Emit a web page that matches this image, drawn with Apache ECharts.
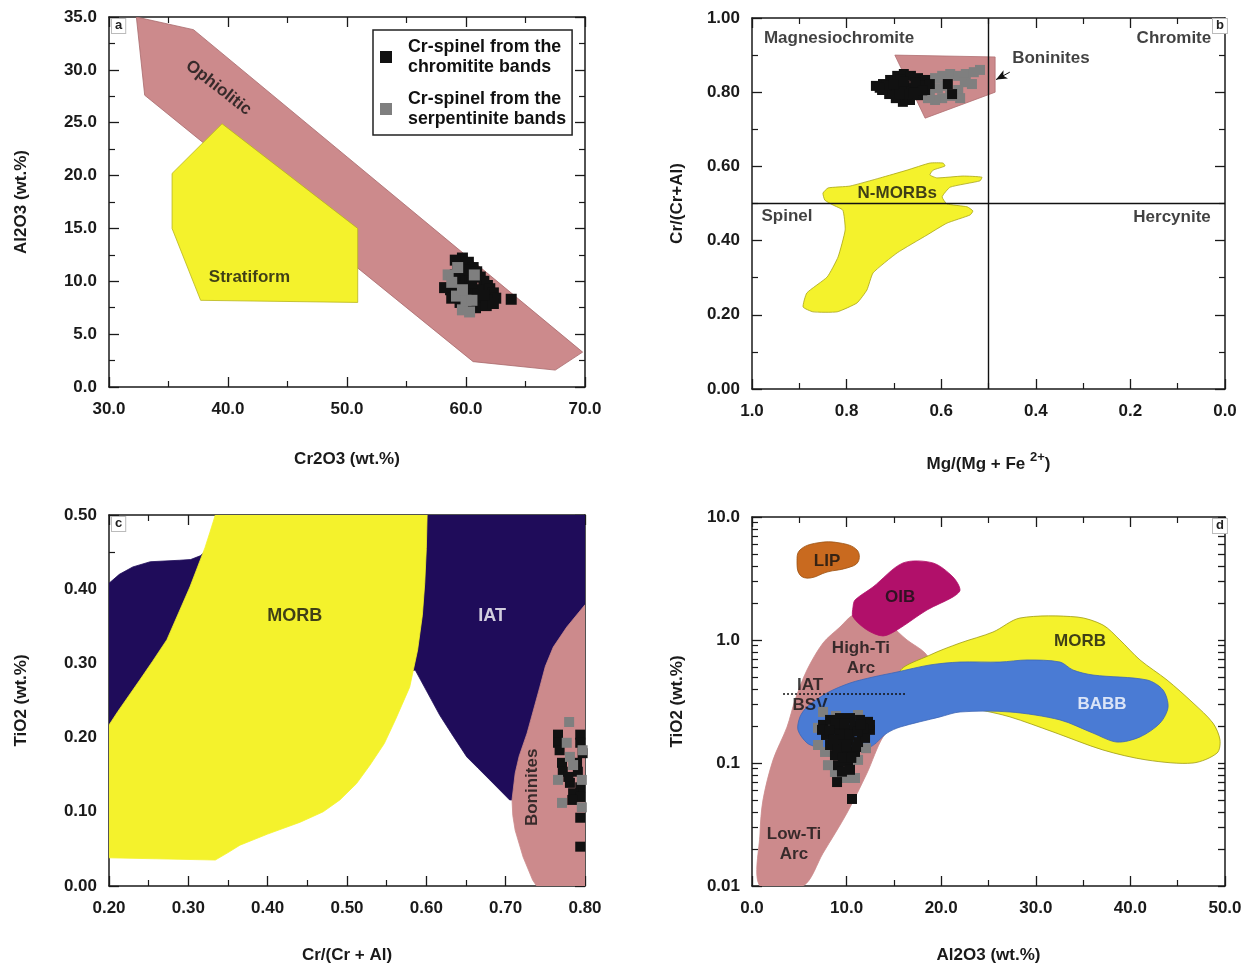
<!DOCTYPE html>
<html><head><meta charset="utf-8">
<script src="https://cdn.jsdelivr.net/npm/echarts@6/dist/echarts.min.js"></script>
<style>html,body{margin:0;padding:0;background:#fff}#c{width:1253px;height:966px}</style>
</head><body><div id="c"></div>
<script>
// ---------- Panel a : Cr2O3 vs Al2O3 ----------
const ophioliticA = [[32.3,35.0],[37.1,33.8],[69.8,3.3],[67.5,1.6],[60.6,2.4],[33.0,27.6]];
const stratiformA = [[39.5,24.9],[50.9,15.0],[50.9,8.0],[37.7,8.2],[35.3,15.0],[35.3,20.2]];
const chromititeA = [[59.7,12.2],[60.2,11.8],[59.3,11.5],[60.6,11.3],[60.9,10.9],[61.2,10.4],[61.5,10.0],[61.8,9.6],[62.0,9.3],[62.3,8.9],[62.5,8.4],[61.8,8.2],[61.2,7.9],[60.8,8.6],[60.3,9.2],[59.9,9.6],[59.5,10.1],[59.1,10.6],[58.7,9.2],[58.2,9.4],[58.8,8.4],[59.5,8.0],[60.2,7.8],[60.8,7.5],[61.7,7.7],[62.3,7.9],[63.8,8.3],[60.3,10.3],[61.0,9.2],[61.5,8.7],[59.9,11.1],[60.5,9.8],[59.3,9.0],[59.1,12.0]];
const serpentiniteA = [[58.5,10.6],[58.8,9.9],[59.2,8.6],[60.0,8.2],[60.5,8.2],[59.7,7.3],[60.3,7.1],[59.3,11.3],[59.7,9.2],[60.7,10.6]];
const labelsA = [['Ophiolitic',39.2,28.3,-38,'#111'],['Stratiform',41.8,10.4,0,'#111']];

// ---------- Panel b : Mg# vs Cr# ----------
const boninitesB = [[0.698,0.900],[0.486,0.895],[0.486,0.800],[0.634,0.730]];
const nmorbB = [[0.850,0.528],[0.839,0.542],[0.793,0.547],[0.729,0.569],[0.672,0.590],[0.624,0.609],[0.596,0.609],[0.592,0.601],[0.617,0.590],[0.624,0.577],[0.609,0.569],[0.554,0.574],[0.514,0.571],[0.518,0.561],[0.581,0.544],[0.598,0.518],[0.588,0.499],[0.545,0.491],[0.533,0.480],[0.539,0.469],[0.588,0.447],[0.630,0.415],[0.693,0.367],[0.744,0.313],[0.757,0.267],[0.778,0.232],[0.820,0.208],[0.871,0.208],[0.892,0.221],[0.884,0.259],[0.841,0.302],[0.818,0.356],[0.803,0.429],[0.808,0.482],[0.829,0.496],[0.846,0.509]];
const chromititeB = [[0.738,0.817],[0.723,0.822],[0.708,0.833],[0.693,0.844],[0.679,0.849],[0.664,0.844],[0.649,0.838],[0.634,0.833],[0.624,0.822],[0.634,0.806],[0.649,0.792],[0.666,0.779],[0.681,0.774],[0.696,0.784],[0.710,0.795],[0.725,0.806],[0.693,0.811],[0.677,0.817],[0.662,0.811],[0.645,0.817],[0.586,0.822],[0.577,0.795],[0.672,0.795],[0.687,0.833],[0.702,0.806],[0.715,0.818],[0.680,0.828],[0.655,0.826],[0.640,0.805],[0.658,0.798],[0.688,0.795],[0.730,0.812],[0.700,0.822]];
const serpentiniteB = [[0.613,0.838],[0.598,0.844],[0.581,0.849],[0.564,0.844],[0.548,0.849],[0.531,0.854],[0.518,0.860],[0.550,0.827],[0.564,0.806],[0.581,0.790],[0.598,0.784],[0.613,0.779],[0.628,0.784],[0.607,0.811],[0.535,0.822],[0.592,0.817],[0.624,0.795],[0.560,0.784]];
const labelsB = [['Magnesiochromite',0.816,0.946,0,'#111'],['Chromite',0.108,0.946,0,'#111'],['Boninites',0.368,0.892,0,'#111'],['N-MORBs',0.693,0.528,0,'#111'],['Spinel',0.926,0.466,0,'#111'],['Hercynite',0.112,0.464,0,'#111']];

// ---------- Panel c : Cr# vs TiO2 ----------
const iatC = [[0.200,0.217],[0.200,0.408],[0.213,0.420],[0.230,0.430],[0.252,0.437],[0.289,0.439],[0.303,0.440],[0.315,0.445],[0.327,0.456],[0.334,0.480],[0.340,0.500],[0.800,0.500],[0.800,0.116],[0.705,0.116],[0.680,0.143],[0.665,0.159],[0.651,0.174],[0.632,0.205],[0.617,0.230],[0.586,0.291],[0.441,0.251],[0.252,0.224]];
const morbC = [[0.334,0.500],[0.327,0.476],[0.321,0.456],[0.302,0.403],[0.273,0.332],[0.255,0.303],[0.239,0.278],[0.211,0.235],[0.200,0.217],[0.200,0.038],[0.334,0.035],[0.350,0.045],[0.365,0.055],[0.400,0.070],[0.441,0.086],[0.470,0.100],[0.491,0.116],[0.512,0.138],[0.529,0.163],[0.547,0.192],[0.561,0.224],[0.579,0.268],[0.589,0.318],[0.595,0.365],[0.598,0.408],[0.600,0.455],[0.601,0.500]];
const boninitesC = [[0.800,0.379],[0.777,0.349],[0.760,0.322],[0.750,0.296],[0.743,0.268],[0.727,0.206],[0.717,0.175],[0.712,0.152],[0.708,0.116],[0.709,0.095],[0.712,0.075],[0.722,0.039],[0.734,0.008],[0.739,0.000],[0.800,0.000]];
const chromititeC = [[0.766,0.204],[0.794,0.204],[0.766,0.193],[0.794,0.193],[0.768,0.183],[0.797,0.179],[0.771,0.166],[0.790,0.166],[0.772,0.154],[0.791,0.154],[0.781,0.139],[0.794,0.133],[0.785,0.125],[0.794,0.120],[0.794,0.092],[0.794,0.053],[0.784,0.116],[0.779,0.147]];
const serpentiniteC = [[0.780,0.221],[0.777,0.193],[0.781,0.174],[0.766,0.143],[0.796,0.143],[0.771,0.112],[0.796,0.106],[0.797,0.183],[0.785,0.163]];
const labelsC = [['MORB',0.434,0.364,0,'#111',18],['IAT',0.683,0.364,0,'#fff',18],['Boninites',0.734,0.133,90,'#111',17]];

// ---------- Panel d : Al2O3 vs TiO2 (log) ----------
const arcD = [[0.85,0.01],[0.85,0.027],[1.16,0.050],[2.22,0.1057],[3.70,0.196],[4.55,0.325],[5.81,0.570],[7.51,0.946],[9.30,1.275],[10.68,1.597],[12.47,1.690],[14.59,1.324],[16.39,1.0],[18.29,0.784],[19.35,0.570],[18.82,0.325],[15.65,0.224],[13.85,0.163],[12.16,0.0829],[10.04,0.0392],[7.51,0.0185],[5.39,0.01]];
const lipD = [[4.76,4.31],[5.07,5.39],[6.87,6.15],[9.30,6.15],[11.10,5.39],[11.21,4.31],[10.04,3.85],[7.93,3.57],[6.13,3.19],[5.07,3.38]];
const oibD = [[10.68,1.855],[10.89,2.114],[12.79,2.698],[15.96,4.23],[19.13,4.23],[21.25,3.25],[21.99,2.55],[21.25,2.24],[18.50,1.754],[15.33,1.206],[13.85,1.078],[12.16,1.206],[10.68,1.538]];
const morbD = [[15.65,0.549],[18.82,0.755],[21.99,0.945],[25.48,1.161],[28.33,1.509],[34.36,1.538],[37.10,1.324],[38.90,1.0],[41.02,0.688],[43.87,0.473],[46.62,0.308],[48.73,0.211],[49.47,0.154],[49.16,0.1205],[46.62,0.100],[41.76,0.1057],[37.10,0.1276],[31.82,0.179],[27.27,0.237],[24.10,0.270],[21.99,0.285],[18.82,0.325]];
const babbD = [[4.86,0.1855],[5.07,0.237],[5.81,0.285],[7.93,0.371],[10.36,0.447],[12.79,0.500],[15.33,0.549],[18.82,0.627],[21.99,0.662],[26.22,0.662],[29.07,0.688],[32.56,0.662],[33.93,0.570],[36.05,0.519],[41.76,0.473],[43.45,0.392],[43.98,0.285],[43.13,0.211],[41.02,0.163],[38.58,0.148],[36.05,0.175],[32.56,0.224],[27.27,0.260],[21.99,0.260],[19.87,0.237],[15.65,0.196],[14.27,0.175],[12.47,0.135],[9.30,0.1276],[6.87,0.135],[5.81,0.1455]];
const chromititeD = [[7.51,0.204],[8.25,0.224],[9.30,0.232],[10.36,0.232],[11.42,0.224],[12.26,0.216],[12.47,0.186],[11.63,0.169],[10.57,0.186],[9.62,0.196],[8.77,0.186],[7.82,0.169],[8.25,0.140],[9.30,0.148],[10.15,0.154],[11.21,0.148],[11.95,0.160],[8.77,0.116],[9.83,0.123],[10.89,0.123],[9.09,0.096],[10.15,0.102],[9.51,0.085],[10.36,0.088],[8.99,0.070],[10.57,0.051],[12.47,0.204],[7.40,0.186],[8.8,0.21],[9.8,0.21],[10.8,0.20],[11.8,0.19],[8.2,0.185],[9.3,0.17],[10.3,0.17],[11.2,0.18],[9.0,0.13],[10.0,0.135],[11.0,0.135],[9.6,0.11],[10.5,0.11],[8.6,0.155],[11.5,0.205]];
const serpentiniteD = [[7.51,0.260],[8.88,0.241],[11.21,0.2455],[6.98,0.193],[6.98,0.140],[7.72,0.123],[8.03,0.096],[8.77,0.0845],[11.21,0.106],[12.05,0.132],[9.83,0.0755],[10.89,0.0755],[11.63,0.216],[8.46,0.193]];
const iatBsvLineD = [[3.28,0.364],[16.39,0.364]];
const labelsD = [['LIP',7.93,4.39,0,'#111'],['OIB',15.65,2.24,0,'#111'],['High-Ti\nArc',11.52,0.714,0,'#111'],['IAT\nBSV',6.13,0.357,0,'#111'],['Low-Ti\nArc',4.44,0.0217,0,'#111'],['MORB',34.67,0.981,0,'#111'],['BABB',37.0,0.302,0,'#fff']];
const logMinorTicksD = [0.02,0.03,0.04,0.05,0.06,0.07,0.08,0.09,0.2,0.3,0.4,0.5,0.6,0.7,0.8,0.9,2,3,4,5,6,7,8,9];
const logAllTicksD = [0.01,0.02,0.03,0.04,0.05,0.06,0.07,0.08,0.09,0.1,0.2,0.3,0.4,0.5,0.6,0.7,0.8,0.9,1,2,3,4,5,6,7,8,9,10];

const S1 = 'Cr-spinel from the\nchromitite bands';
const S2 = 'Cr-spinel from the\nserpentinite bands';

// ---------- styling helpers ----------
const FONT = '"Liberation Sans", Arial, Helvetica, sans-serif';
const AX = '#1a1a1a';
const FS = 17;
const C_PINK = '#cc8a8c', C_YEL = '#f4f22c', C_NAVY = '#1f0c5a', C_BLUE = '#4a7bd4', C_OIB = '#b1106a', C_LIP = '#c96a1f';

function lblStyle(extra){ return Object.assign({fontFamily:FONT,fontWeight:'bold',fontSize:FS,color:'#1a1a1a'},extra||{}); }

function axisPair(dir, gi, o){
  const base = {type:o.type||'value', gridIndex:gi, min:o.min, max:o.max, inverse:!!o.inverse,
    splitLine:{show:false},
    axisLine:{show:true,onZero:false,lineStyle:{color:AX,width:1.5}},
    axisTick:{show:true,inside:true,length:10,lineStyle:{color:AX,width:1.3}},
    minorTick:{show:!!o.minor,splitNumber:o.minor||2,length:6,lineStyle:{color:AX,width:1.2}}};
  if (o.interval!=null) base.interval=o.interval;
  const prim = Object.assign({}, base, {
    position: dir==='x'?'bottom':'left',
    name:o.name, nameLocation:'middle', nameGap:o.nameGap,
    nameTextStyle:lblStyle(o.nameRich?{rich:o.nameRich}:{}),
    axisLabel:lblStyle({show:true,margin:o.margin,formatter:o.fmt})
  });
  const mir = Object.assign({}, base, {position: dir==='x'?'top':'right', axisLabel:{show:false}});
  if (o.mirrorTicks) mir.axisTick = Object.assign({}, base.axisTick, {length:7, customValues:o.mirrorTicks});
  return [prim, mir];
}

function region(pts, xi, yi, fill, stroke, smooth){
  return {type:'custom', xAxisIndex:xi, yAxisIndex:yi, silent:true, clip:true, z:1,
    data:pts,
    renderItem:function(params, api){
      if (params.dataIndex!==0) return null;
      const points = pts.map(p=>api.coord(p));
      return {type:'polygon', shape:{points:points, smooth:smooth||0},
        style:{fill:fill, stroke:stroke||fill, lineWidth:0.8}};
    }};
}
function labels(items, xi, yi){
  return {type:'scatter', xAxisIndex:xi, yAxisIndex:yi, silent:true, symbolSize:0, z:5,
    data: items.map(it=>({name:it[0], value:[it[1],it[2]],
      label:{show:true, position:'inside', formatter:'{b}', rotate:it[3], color:it[4],
        fontFamily:FONT, fontWeight:'bold', fontSize:it[5]||FS, lineHeight:20}}))};
}
function pts(name, data, xi, yi, color, size){
  return {type:'scatter', name:name, xAxisIndex:xi, yAxisIndex:yi, symbol:'rect', symbolSize:size||10,
    itemStyle:{color:color, opacity:1}, data:data, z:6, silent:true};
}

const ax = [], ay = [];
ax.push(...axisPair('x',0,{min:30,max:70,interval:10,minor:2,name:'Cr2O3 (wt.%)',nameGap:64,margin:14,fmt:v=>v.toFixed(1)}));
ay.push(...axisPair('y',0,{min:0,max:35,interval:5,minor:2,name:'Al2O3 (wt.%)',nameGap:79,margin:12,fmt:v=>v.toFixed(1)}));
ax.push(...axisPair('x',1,{min:0,max:1,interval:0.2,minor:2,inverse:true,name:'Mg/(Mg + Fe {sup|2+})',nameGap:62,margin:14,fmt:v=>v.toFixed(1),
  nameRich:{sup:{fontFamily:FONT,fontWeight:'bold',fontSize:13,padding:[0,0,13,0],color:'#1a1a1a'}}}));
ay.push(...axisPair('y',1,{min:0,max:1,interval:0.2,minor:2,name:'Cr/(Cr+Al)',nameGap:66,margin:12,fmt:v=>v.toFixed(2)}));
ax.push(...axisPair('x',2,{min:0.2,max:0.8,interval:0.1,minor:2,name:'Cr/(Cr + Al)',nameGap:61,margin:14,fmt:v=>v.toFixed(2)}));
ay.push(...axisPair('y',2,{min:0,max:0.5,interval:0.1,minor:2,name:'TiO2 (wt.%)',nameGap:79,margin:12,fmt:v=>v.toFixed(2)}));
ax.push(...axisPair('x',3,{min:0,max:50,interval:10,minor:2,name:'Al2O3 (wt.%)',nameGap:61,margin:14,fmt:v=>v.toFixed(1)}));
ay.push(...axisPair('y',3,{type:'log',min:0.01,max:10,name:'TiO2 (wt.%)',nameGap:66,margin:12,mirrorTicks:logAllTicksD,
  fmt:v=>v>=1?v.toFixed(1):String(+v.toPrecision(1))}));
// minor log ticks on the left side of panel d (label-less axis)
ay.push({type:'log',gridIndex:3,min:0.01,max:10,position:'left',offset:0,
  axisLine:{show:false},axisLabel:{show:false},splitLine:{show:false},
  axisTick:{show:true,inside:true,length:6,customValues:logMinorTicksD,lineStyle:{color:AX,width:1.2}}});

const series = [
  // a
  region(ophioliticA,0,0,C_PINK,'#a86a6c',0),
  region(stratiformA,0,0,C_YEL,'#b8b51a',0),
  labels(labelsA,0,0),
  pts(S1,chromititeA,0,0,'#111',11),
  pts(S2,serpentiniteA,0,0,'#7f7f7f',11),
  // b
  region(boninitesB,2,2,C_PINK,'#b07072',0),
  region(nmorbB,2,2,C_YEL,'#a8a518',0.15),
  {type:'line',xAxisIndex:2,yAxisIndex:2,data:[[0.5,0],[0.5,1]],symbol:'none',silent:true,z:4,lineStyle:{color:'#111',width:1.4}},
  {type:'line',xAxisIndex:2,yAxisIndex:2,data:[[1,0.5],[0,0.5]],symbol:'none',silent:true,z:4,lineStyle:{color:'#111',width:1.4},
    markLine:{silent:true,symbol:['none','arrow'],symbolSize:[7,11],lineStyle:{color:'#111',width:1,type:'solid'},label:{show:false},
      data:[[{coord:[0.455,0.854]},{coord:[0.484,0.834]}]]}},
  labels(labelsB,2,2),
  pts(S2,serpentiniteB,2,2,'#7f7f7f',10),
  pts(S1,chromititeB,2,2,'#111',10),
  // c
  region(iatC,4,4,C_NAVY,C_NAVY,0),
  region(morbC,4,4,C_YEL,C_YEL,0),
  region(boninitesC,4,4,C_PINK,C_PINK,0),
  labels(labelsC,4,4),
  pts(S1,chromititeC,4,4,'#111',10),
  pts(S2,serpentiniteC,4,4,'#7f7f7f',10),
  // d
  region(arcD,6,6,C_PINK,C_PINK,0.3),
  region(lipD,6,6,C_LIP,'#9a5010',0.4),
  region(oibD,6,6,C_OIB,C_OIB,0.3),
  region(morbD,6,6,C_YEL,'#9e9b14',0.3),
  region(babbD,6,6,C_BLUE,'#3d66b5',0.3),
  {type:'line',xAxisIndex:6,yAxisIndex:6,data:iatBsvLineD,symbol:'none',silent:true,z:4,lineStyle:{color:'#111',width:1.3,type:[2,2]}},
  labels(labelsD,6,6),
  pts(S2,serpentiniteD,6,6,'#7f7f7f',10),
  pts(S1,chromititeD,6,6,'#111',10)
];

const letters = [['a',111,18],['b',1212,18],['c',111,516],['d',1212,518]];

const option = {
  animation:false,
  backgroundColor:'#fff',
  grid:[
    {left:109,top:17,width:476,height:370},
    {left:752,top:18,width:473,height:371},
    {left:109,top:515,width:476,height:371},
    {left:752,top:517,width:473,height:369}
  ],
  xAxis:ax, yAxis:ay,
  legend:{show:true,left:373,top:30,orient:'vertical',selectedMode:false,
    itemWidth:12,itemHeight:12,itemGap:12,padding:[7,6,6,7],
    borderColor:'#222',borderWidth:1.5,backgroundColor:'#fff',
    textStyle:{fontFamily:FONT,fontWeight:'bold',fontSize:17.8,color:'#111',lineHeight:20,padding:[0,0,0,11]},
    data:[{name:S1,icon:'rect'},{name:S2,icon:'rect'}]},
  graphic: letters.map(l=>({type:'text',left:l[1],top:l[2],z:100,
    style:{text:l[0],font:'bold 13px '+FONT,fill:'#222',backgroundColor:'#fff',borderColor:'#bbb',borderWidth:1,padding:[0,3,1,3]}})),
  series:series
};
const chart = echarts.init(document.getElementById('c'), null, {renderer:'canvas'});
chart.setOption(option);
</script></body></html>
